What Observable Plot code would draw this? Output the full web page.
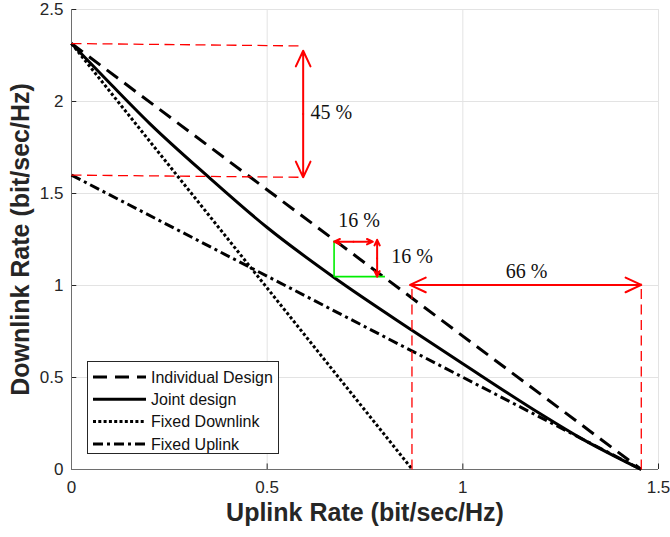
<!DOCTYPE html>
<html><head><meta charset="utf-8">
<script src="https://cdn.jsdelivr.net/npm/d3@7"></script>
<script src="https://cdn.jsdelivr.net/npm/@observablehq/plot@0.6"></script>
<style>
body{margin:0;background:#fff;}
#wrap{position:relative;width:670px;height:537px;overflow:hidden;}
#legend{position:absolute;left:87px;top:361px;width:192px;height:93px;border:1px solid #262626;background:#fff;box-sizing:border-box;}
</style></head><body><div id="wrap"></div>
<script>
// ---- data ----
const xTicks = [0, 0.5, 1, 1.5];
const yTicks = [0, 0.5, 1, 1.5, 2, 2.5];
const seriesNames = ["Individual Design", "Joint design", "Fixed Downlink", "Fixed Uplink"];
const individualX = [0, 1.456];
const individualY = [2.315, 0];
const jointX = [0, 0.1, 0.2, 0.35, 0.5, 0.67, 0.87, 1.0, 1.2, 1.3, 1.456];
const jointY = [2.315, 2.095, 1.88, 1.59, 1.315, 1.045, 0.757, 0.575, 0.3, 0.172, 0];
const fixedDownX = [0, 0.871];
const fixedDownY = [2.315, 0];
const fixedUpX = [0, 1.456];
const fixedUpY = [1.6, 0];
// annotations (data units)
const dashX1 = [0, 0, 0.87, 1.456];
const dashY1 = [2.315, 1.6, 0, 0];
const dashX2 = [0.59, 0.59, 0.87, 1.456];
const dashY2 = [2.302, 1.588, 1.0, 1.012];
const dArrowX1 = [0.592, 0.671, 0.781, 0.865];
const dArrowY1 = [2.276, 1.238, 1.248, 1.003];
const dArrowX2 = [0.592, 0.770, 0.781, 1.456];
const dArrowY2 = [1.588, 1.238, 1.048, 1.003];
const greenX1 = [0.671, 0.671];
const greenY1 = [1.048, 1.048];
const greenX2 = [0.671, 0.801];
const greenY2 = [1.244, 1.048];
const labelText = ["45 %", "16 %", "16 %", "66 %"];
const labelX = [0.664, 0.735, 0.870, 1.163];
const labelY = [1.941, 1.353, 1.159, 1.076];

// ---- build tables ----
const seriesData = [
  ...individualX.map((x, i) => ({s: seriesNames[0], x, y: individualY[i]})),
  ...jointX.map((x, i) => ({s: seriesNames[1], x, y: jointY[i]})),
  ...fixedDownX.map((x, i) => ({s: seriesNames[2], x, y: fixedDownY[i]})),
  ...fixedUpX.map((x, i) => ({s: seriesNames[3], x, y: fixedUpY[i]}))
];
const styles = {
  "Individual Design": {dash: "14,8", width: 3},
  "Joint design": {dash: null, width: 3},
  "Fixed Downlink": {dash: "3,2.3", width: 3},
  "Fixed Uplink": {dash: "10,4,3,4", width: 3}
};
const dashLines = dashX1.map((x, i) => ({x1: x, y1: dashY1[i], x2: dashX2[i], y2: dashY2[i]}));
const arrows = [];
dArrowX1.forEach((x, i) => {
  const mx = (x + dArrowX2[i]) / 2, my = (dArrowY1[i] + dArrowY2[i]) / 2;
  arrows.push({x1: mx, y1: my, x2: x, y2: dArrowY1[i]});
  arrows.push({x1: mx, y1: my, x2: dArrowX2[i], y2: dArrowY2[i]});
});
const greenLines = greenX1.map((x, i) => ({x1: x, y1: greenY1[i], x2: greenX2[i], y2: greenY2[i]}));
const labels = labelText.map((t, i) => ({t, x: labelX[i], y: labelY[i]}));

const axisColor = "#262626";
const sans = "'Liberation Sans', Arial, Helvetica, sans-serif";

const marks = [
  Plot.gridX(xTicks, {stroke: "#e3e3e3", strokeOpacity: 1}),
  Plot.gridY(yTicks, {stroke: "#e3e3e3", strokeOpacity: 1}),
  Plot.ruleX(xTicks, {y1: 0, y2: 0.03, stroke: axisColor}),
  Plot.ruleY(yTicks, {x1: 0, x2: 0.0135, stroke: axisColor}),
  Plot.ruleX([0], {stroke: "#6e6e6e"}),
  Plot.ruleY([0], {stroke: "#6e6e6e"}),
  Plot.axisX(xTicks, {tickSize: 0, tickPadding: 11, fontSize: 17, fill: axisColor, label: null, tickFormat: d => String(d)}),
  Plot.axisY(yTicks, {tickSize: 0, tickPadding: 8, fontSize: 17, fill: axisColor, label: null, tickFormat: d => String(d)}),
  Plot.text(["Uplink Rate (bit/sec/Hz)"], {text: d => d, frameAnchor: "bottom", dy: 51, fontSize: 25, fontWeight: "bold", fill: axisColor, fontFamily: sans}),
  Plot.text(["Downlink Rate (bit/sec/Hz)"], {text: d => d, frameAnchor: "left", textAnchor: "middle", dx: -51, rotate: -90, fontSize: 25, fontWeight: "bold", fill: axisColor, fontFamily: sans}),
  ...seriesNames.map(n => Plot.line(seriesData.filter(d => d.s === n), {
    x: "x", y: "y", stroke: "black", strokeWidth: styles[n].width,
    strokeDasharray: styles[n].dash, curve: n === "Joint design" ? "monotone-x" : "linear",
    strokeLinecap: "butt"
  })),
  Plot.link(dashLines, {x1: "x1", y1: "y1", x2: "x2", y2: "y2", stroke: "red", strokeWidth: 1.3, strokeDasharray: "10,5.5"}),
  Plot.link(greenLines, {x1: "x1", y1: "y1", x2: "x2", y2: "y2", stroke: "#00ee00", strokeWidth: 1.6}),
  Plot.arrow(arrows, {x1: "x1", y1: "y1", x2: "x2", y2: "y2", stroke: "red", strokeWidth: 2, headLength: 13, headAngle: 50}),
  Plot.text(labels, {x: "x", y: "y", text: "t", fontSize: 20, fontFamily: "'Liberation Serif', 'Times New Roman', serif", fill: "#111"})
];

const chart = Plot.plot({
  width: 670, height: 537,
  marginLeft: 71, marginRight: 12, marginTop: 9, marginBottom: 68,
  x: {domain: [0, 1.5]},
  y: {domain: [0, 2.5]},
  style: {fontFamily: sans, background: "#fff"},
  marks
});
const wrap = document.getElementById("wrap");
wrap.appendChild(chart);

// legend
const lg = document.createElement("div");
lg.id = "legend";
wrap.appendChild(lg);
const svg = d3.select(lg).append("svg").attr("width", 190).attr("height", 91);
seriesNames.forEach((n, i) => {
  const y = 15 + i * 22.3;
  svg.append("line").attr("x1", 5).attr("x2", 58).attr("y1", y).attr("y2", y)
    .attr("stroke", "black").attr("stroke-width", styles[n].width)
    .attr("stroke-dasharray", styles[n].dash);
  svg.append("text").attr("x", 63).attr("y", y).attr("dy", "0.35em")
    .attr("font-size", 16).attr("font-family", sans).attr("fill", "#111").text(n);
});
</script></body></html>
